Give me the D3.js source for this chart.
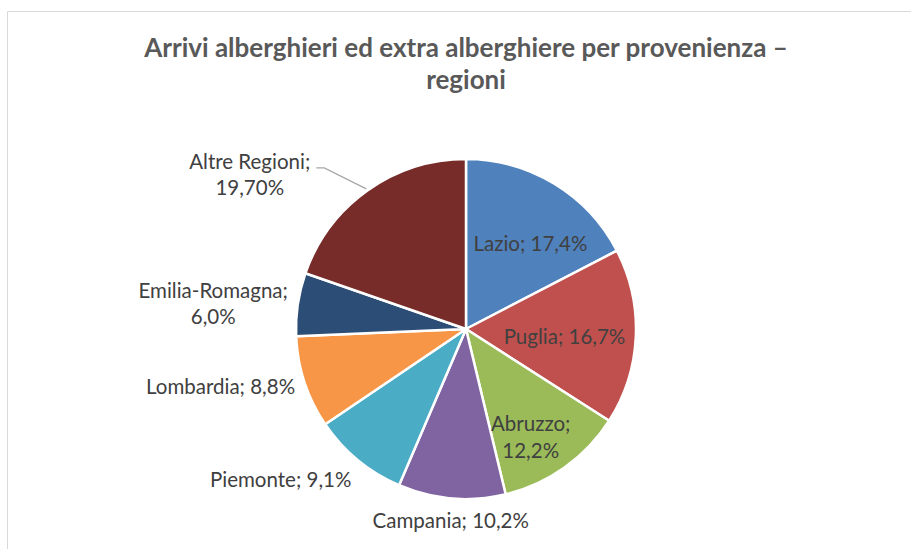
<!DOCTYPE html>
<html>
<head>
<meta charset="utf-8">
<script src="https://cdn.jsdelivr.net/npm/d3@7"></script>
<style>
  body { margin: 0; background: #fff; }
  text { font-family: Lato, "Open Sans", sans-serif; }
</style>
</head>
<body>
<script>
// data
const regions = ['Lazio', 'Puglia', 'Abruzzo', 'Campania', 'Piemonte', 'Lombardia', 'Emilia-Romagna', 'Altre Regioni'];
const shares = [17.4, 16.7, 12.2, 10.2, 9.1, 8.8, 6.0, 19.7];
const decimals = [1, 1, 1, 1, 1, 1, 1, 2];
const colors = ['#4f81bd', '#c0504d', '#9bbb59', '#8064a2', '#4bacc6', '#f79646', '#2c4d75', '#772c2a'];
// where excel put each label: inside the slice, outside, or outside with a leader line
const labelMode = ['inside', 'inside', 'inside', 'outside', 'outside', 'outside', 'outside', 'leader'];
const twoLines = [false, false, true, false, false, false, true, true];
// inside labels: fraction of radius and a small turn (degrees) off the mid angle
const insideRadius = [0.64, 0.58, 0.73];
const insideTurn = [5, 0.5, 4];

const W = 911, H = 549;
const cx = 466, cy = 329, R = 170;

const svg = d3.select('body').append('svg')
  .attr('width', W)
  .attr('height', H);

// chart frame (only top and left edges are inside the crop)
svg.append('path')
  .attr('d', `M7.5,${H} V11.5 H${W}`)
  .attr('fill', 'none')
  .attr('stroke', '#d9d9d9');

// title
const title = svg.append('text')
  .attr('text-anchor', 'middle')
  .attr('fill', '#595959')
  .attr('font-weight', 'bold')
  .attr('font-size', 26);
title.append('tspan').attr('x', 466).attr('y', 57).text('Arrivi alberghieri ed extra alberghiere per provenienza \u2013');
title.append('tspan').attr('x', 466).attr('y', 89).text('regioni');

const it = d3.formatLocale({decimal: ',', thousands: '.', grouping: [3]});

const data = regions.map((name, i) => ({
  name: name,
  value: shares[i],
  color: colors[i],
  mode: labelMode[i],
  wrap: twoLines[i],
  label: it.format('.' + decimals[i] + 'f')(shares[i]) + '%'
}));

const pie = d3.pie().sort(null).value(d => d.value);
const arcs = pie(data);
const arc = d3.arc().innerRadius(0).outerRadius(R);

const g = svg.append('g').attr('transform', `translate(${cx},${cy})`);

g.selectAll('path.slice')
  .data(arcs)
  .join('path')
  .attr('class', 'slice')
  .attr('d', arc)
  .attr('fill', d => d.data.color)
  .attr('stroke', '#fff')
  .attr('stroke-width', 2.5)
  .attr('stroke-linejoin', 'round');

const fs = 20.5, lh = 26.5;
const cap = fs * 0.36;
const midAngle = d => (d.startAngle + d.endAngle) / 2;
const polar = (a, r) => [r * Math.sin(a), -r * Math.cos(a)];

arcs.forEach((d, i) => {
  const a = midAngle(d);
  const lines = d.data.wrap ? [d.data.name + ';', d.data.label] : [d.data.name + '; ' + d.data.label];
  const n = lines.length;
  const t = g.append('text')
    .attr('fill', '#404040')
    .attr('font-size', fs);

  let x, y, anchor = 'middle';
  if (d.data.mode === 'inside') {
    [x, y] = polar(a + insideTurn[i] * Math.PI / 180, R * insideRadius[i]);
    y = y - (n - 1) * lh / 2 + cap + 2;
  } else if (d.data.mode === 'outside') {
    [x, y] = polar(a, R + 10);
    const s = Math.sin(a), c = -Math.cos(a);
    if (Math.abs(s) < 0.2) {
      y = y + fs * 0.95;
    } else {
      anchor = 'end';
      // below the pie the top corner of the box sits on the point, at the side it is centred
      y = c > 0.5 ? y + fs * 0.95 : y - (n - 1) * lh / 2 + cap + 1;
    }
  } else {
    // leader line from slice edge
    const p0 = polar(a, R + 2);
    const p1 = [p0[0] - 42, p0[1] - 21];
    const p2 = [p1[0] - 8, p1[1]];
    g.append('polyline')
      .attr('points', [p0, p1, p2].map(p => p.join(',')).join(' '))
      .attr('fill', 'none')
      .attr('stroke', '#a6a6a6')
      .attr('stroke-width', 1.2);
    x = p2[0] - 6;
    y = p2[1] + 1;
    anchor = 'end';
  }

  lines.forEach((line, k) => {
    t.append('tspan')
      .attr('x', x)
      .attr('y', y + k * lh)
      .text(line);
  });
  t.attr('text-anchor', anchor);

  // two-line blocks are centred on their own width
  if (n > 1 && anchor !== 'middle') {
    const w0 = t.node().getBBox().width;
    t.attr('text-anchor', 'middle');
    t.selectAll('tspan').attr('x', x - w0 / 2);
  }
});
</script>
</body>
</html>
